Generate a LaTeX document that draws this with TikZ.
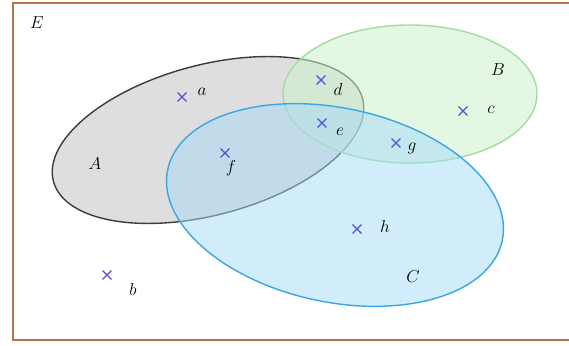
\documentclass[tikz,border=0pt]{standalone}
\usetikzlibrary{shapes.misc}
\definecolor{frameC}{RGB}{185,115,75}
\definecolor{aFill}{RGB}{222,222,222}
\definecolor{aLine}{RGB}{60,60,60}
\definecolor{bFill}{RGB}{205,242,205}
\definecolor{bLine}{RGB}{160,222,160}
\definecolor{cFill}{RGB}{165,218,248}
\definecolor{cLine}{RGB}{60,165,230}
\definecolor{markC}{RGB}{85,80,220}
\tikzset{
  xmark/.style={cross out, draw=markC, minimum size=7.5pt, inner sep=0pt, line width=1.3pt},
  lbl/.style={font=\fontsize{16}{19}\selectfont, inner sep=0pt},
}
\begin{document}
\begin{tikzpicture}[x=1pt,y=1pt]
\useasboundingbox (0,0) rectangle (569,345);
\fill[white] (0,0) rectangle (569,345);
\draw[frameC, line width=2pt] (569,342) -- (13,342) -- (13,5) -- (569,5);
% set A
\draw[aLine, fill=aFill, line width=1.4pt, rotate around={15:(208,205)}] (208,205) ellipse [x radius=160, y radius=75];
% set B
\draw[bLine, fill=bFill, fill opacity=0.55, line width=1.4pt] (410,251) ellipse [x radius=127, y radius=69];
% set C
\draw[cLine, fill=cFill, fill opacity=0.5, line width=1.4pt, rotate around={-12:(335,140)}] (335,140) ellipse [x radius=171, y radius=97];
% set names
\node[lbl] (nE) at (37,322) {$E$};
\node[lbl] (nA) at (95,181) {$A$};
\node[lbl] (nB) at (498,275) {$B$};
\node[lbl] (nC) at (413,68) {$C$};
% elements
\node[xmark] (ma) at (182,248) {};
\node[lbl] (la) at (202,253) {$a$};
\node[xmark] (md) at (321,265) {};
\node[lbl] (ld) at (338,255) {$d$};
\node[xmark] (me) at (322,222) {};
\node[lbl] (le) at (340,213) {$e$};
\node[xmark] (mf) at (225,192) {};
\node[lbl] (lf) at (231,177) {$f$};
\node[xmark] (mg) at (396,202) {};
\node[lbl] (lg) at (412,197) {$g$};
\node[xmark] (mc) at (463,234) {};
\node[lbl] (lc) at (491,235) {$c$};
\node[xmark] (mh) at (357,116) {};
\node[lbl] (lh) at (385,118) {$h$};
\node[xmark] (mb) at (107,70) {};
\node[lbl] (lb) at (133,56) {$b$};
\end{tikzpicture}
\end{document}
